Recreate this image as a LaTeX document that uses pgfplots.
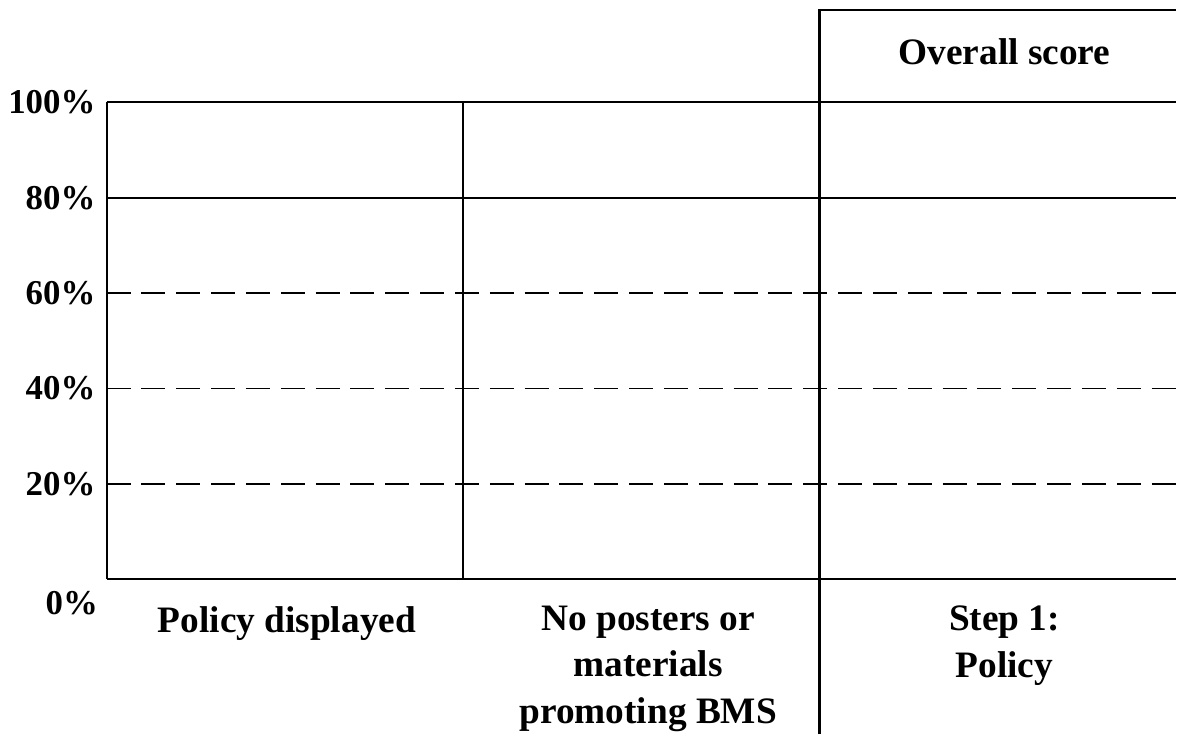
\documentclass[border=0pt]{standalone}
\usepackage{fontspec}
\setmainfont{Liberation Serif}
\usepackage{pgfplots}
\pgfplotsset{compat=1.18}

\begin{document}
\begin{tikzpicture}
  \begin{axis}[
      scale only axis,
      width=429.6pt, height=191.6pt,
      xmin=0, xmax=3, ymin=0, ymax=100,
      clip=false,
      axis x line*=bottom, axis y line*=left,
      axis line style={-, line width=0.8pt},
      tick style={draw=none},
      ytick={20,40,60,80,100},
      yticklabels={20\%,40\%,60\%,80\%,100\%},
      yticklabel style={font=\fontsize{14}{16}\selectfont\bfseries, xshift=-1pt},
      xtick={0.506,1.52,2.52},
      xticklabels={Policy displayed, No posters or\\materials\\promoting BMS, Step 1:\\Policy},
      xticklabel style={font=\fontsize{15}{18.6}\selectfont\bfseries, align=center,
        anchor=north, yshift=-7.3pt},
    ]
    % dashed guides at 20, 40, 60
    \addplot[black, line width=0.6pt, dash pattern=on 9.6pt off 4.4pt] coordinates {(0,20) (3,20)};
    \addplot[black, line width=0.6pt, dash pattern=on 9.6pt off 4.4pt] coordinates {(0,40) (3,40)};
    \addplot[black, line width=0.6pt, dash pattern=on 9.6pt off 4.4pt] coordinates {(0,60) (3,60)};
    % solid lines at 80 and 100
    \addplot[black, line width=0.8pt] coordinates {(0,80) (3,80)};
    \addplot[black, line width=0.8pt] coordinates {(0,100) (3,100)};
    % category separators
    \addplot[black, line width=0.6pt] coordinates {(1,0) (1,100)};
    \addplot[black, line width=1.2pt] coordinates {(2,-32.5) (2,119.4) (3,119.4)};
    \node[font=\fontsize{15}{17}\selectfont\bfseries] at (axis cs:2.52,110.6) {Overall score};
    \node[font=\fontsize{14}{16}\selectfont\bfseries, anchor=east] at (axis cs:0,-5) {0\%};
    % page frame
    \path (axis cs:-0.2877,121.5) rectangle (axis cs:3,-32.5);
  \end{axis}
\end{tikzpicture}
\end{document}
